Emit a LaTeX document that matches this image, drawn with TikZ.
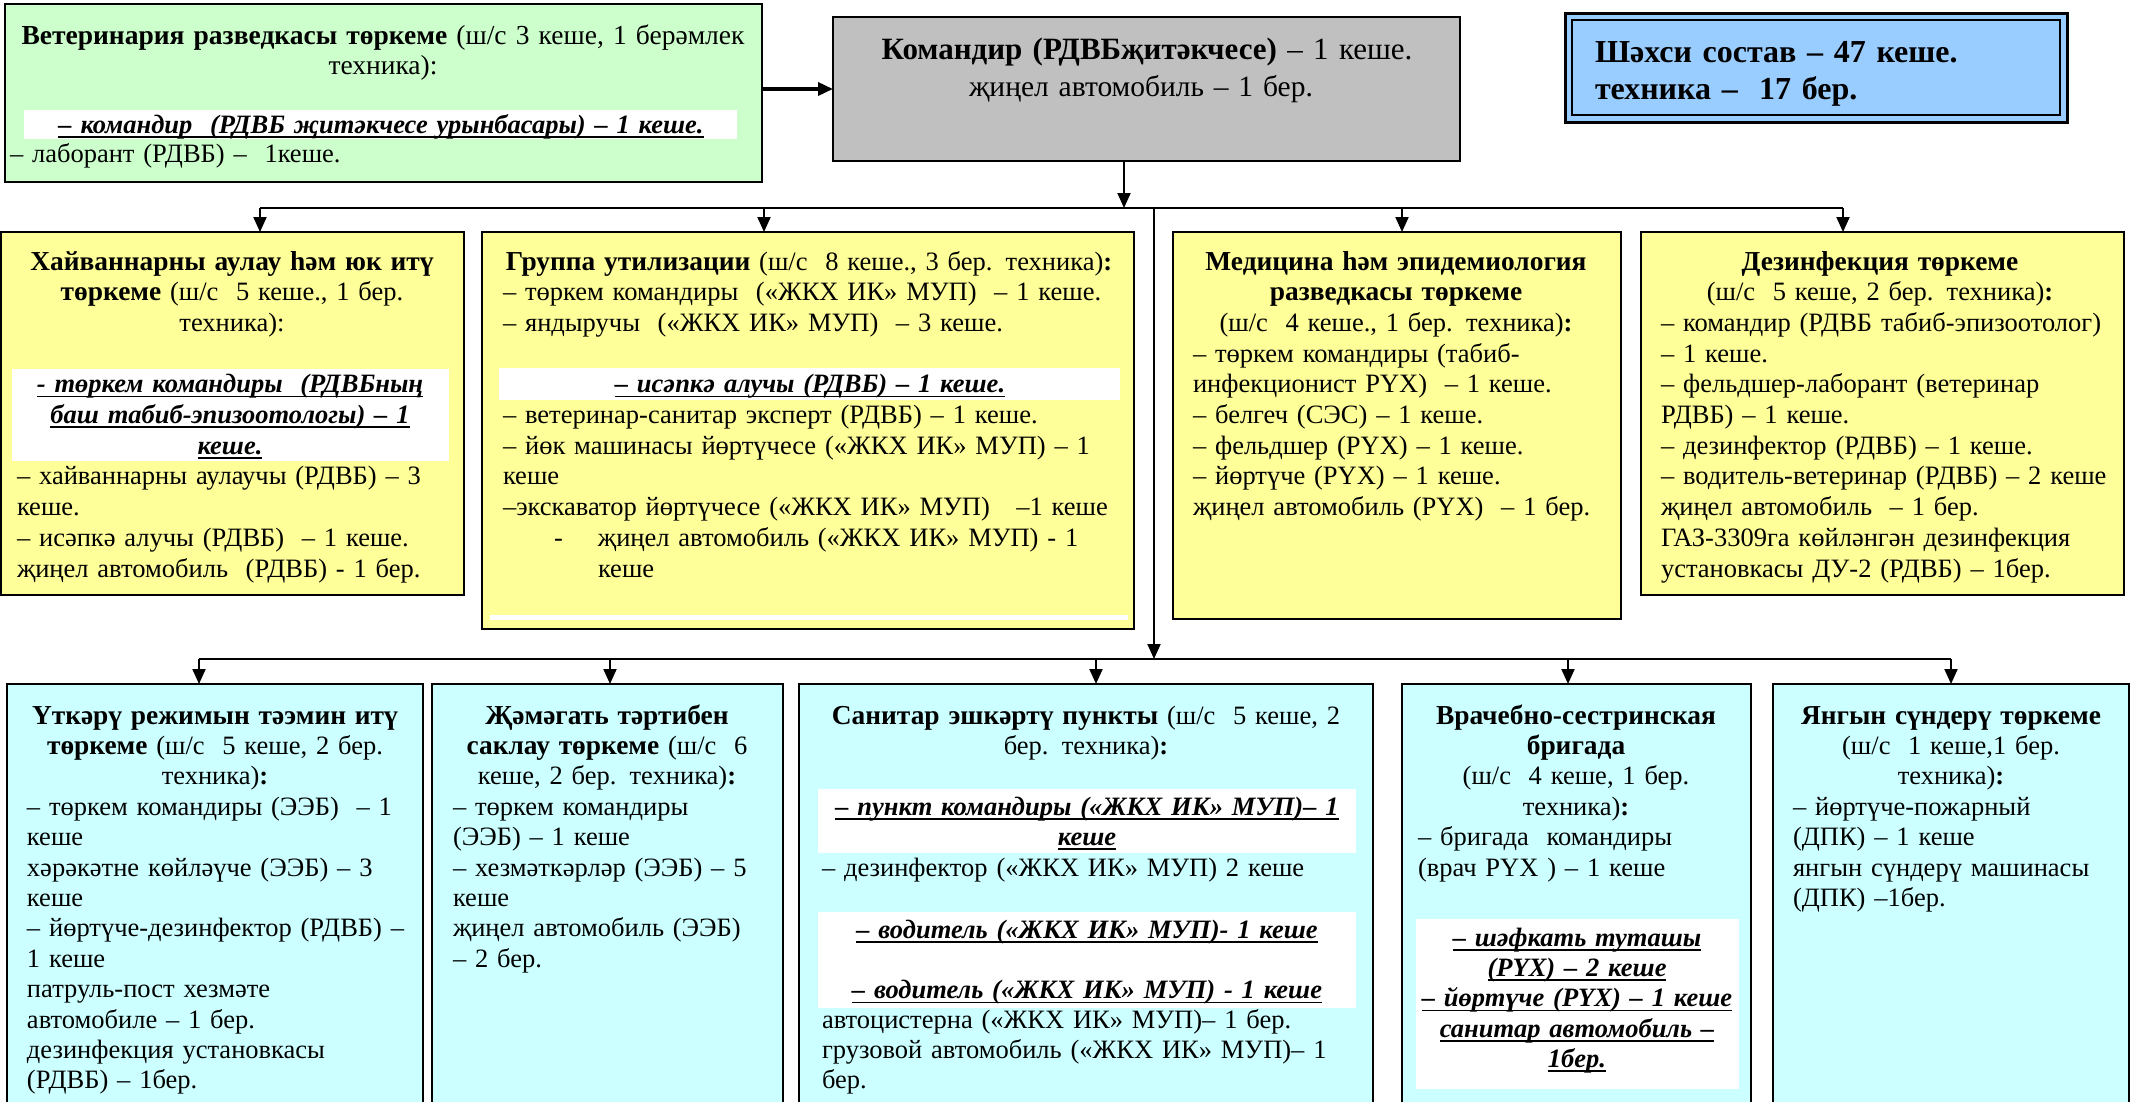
\documentclass[tikz,border=0pt]{standalone}
\usepackage{fontspec}
\setmainfont{Liberation Serif}
\usetikzlibrary{arrows.meta}
\definecolor{cgreen}{HTML}{CCFFCC}
\definecolor{cgray}{HTML}{C0C0C0}
\definecolor{cblue}{HTML}{99CCFF}
\definecolor{cyel}{HTML}{FFFF99}
\definecolor{ccyan}{HTML}{CCFFFF}
\newcommand{\fa}{\fontsize{26.5}{30.7}\selectfont}
\newcommand{\fb}{\fontsize{26.5}{30.4}\selectfont}
\newcommand{\fg}{\fontsize{27.5}{30}\selectfont}
\newcommand{\fgi}{\fontsize{26.5}{30}\selectfont}
\newcommand{\fc}{\fontsize{31}{37}\selectfont}
\newcommand{\fcs}{\fontsize{29.5}{37}\selectfont}
\newcommand{\ft}{\fontsize{32}{37}\selectfont}
\newcommand{\hb}[1]{{\fontsize{27.4}{30.5}\selectfont\bfseries #1}}
\newsavebox{\ulsave}
\newcommand{\ulbox}[1]{\sbox{\ulsave}{#1}\rlap{\rule[-4.5pt]{\wd\ulsave}{1.8pt}}\usebox{\ulsave}}
\newcommand{\bu}[1]{\textbf{\textit{\ulbox{#1}}}}
\begin{document}
\begin{tikzpicture}[x=1pt,y=-1pt,
  boxs/.style={draw=black, line width=1.8pt, inner sep=0pt, outer sep=0pt, anchor=north west},
  txl/.style={inner sep=0pt, outer sep=0pt, anchor=base west, align=left, text width=#1},
  txc/.style={inner sep=0pt, outer sep=0pt, anchor=base, align=center, text width=#1},
  conn/.style={line width=2pt, -{Triangle[length=15pt,width=13pt]}},
  bus/.style={line width=2pt},
  band/.style={fill=white}
]
\useasboundingbox (0,0) rectangle (2134,1101);
\fill[white] (0,0) rectangle (2134,1101);
\clip (0,0) rectangle (2134,1101);

% ---------- top row ----------
\node[boxs, fill=cgreen, minimum width=757pt, minimum height=178pt] (vet) at (5,4) {};
\fill[band] (24,110) rectangle (737,139);
\node[txc=900pt, font=\fg] (vett) at (383,44) {\textbf{Ветеринария разведкасы төркеме} (ш/с 3 кеше, 1 берәмлек\\техника):};
\node[txc=900pt, font=\fgi] (vetc) at (381,133) {\bu{– командир\ \ (РДВБ җитәкчесе урынбасары) – 1 кеше.}};
\node[txl=740pt, font=\fgi] (vetl) at (10,162) {– лаборант (РДВБ) –\ \ 1кеше.};

\node[boxs, fill=cgray, minimum width=627pt, minimum height=144pt] (cmd) at (833,17) {};
\node[txc=900pt, font=\fc] (cmdt) at (1147,59) {\textbf{Командир (РДВБҗитәкчесе)} – 1 кеше.};
\node[txc=900pt, font=\fcs] (cmdu) at (1141,96) {җиңел автомобиль – 1 бер.};

\node[boxs, fill=cblue, minimum width=502pt, minimum height=109pt, line width=3pt] (tot) at (1565,13) {};
\draw[line width=2.5pt] ([xshift=7pt,yshift=-7pt]tot.north west) rectangle ([xshift=-7pt,yshift=7pt]tot.south east);
\node[txl=480pt, font=\ft\bfseries] (tott) at (1595,62) {Шәхси состав – 47 кеше.\\техника –\ \ 17 бер.};

% ---------- row 1 boxes ----------
\node[boxs, fill=cyel, minimum width=463pt, minimum height=363pt] (b1) at (1,232) {};
\node[boxs, fill=cyel, minimum width=652pt, minimum height=397pt] (b2) at (482,232) {};
\node[boxs, fill=cyel, minimum width=448pt, minimum height=387pt] (b3) at (1173,232) {};
\node[boxs, fill=cyel, minimum width=483pt, minimum height=363pt] (b4) at (1641,232) {};

% ---------- row 2 boxes ----------
\node[boxs, fill=ccyan, minimum width=416pt, minimum height=440pt] (c1) at (7,684) {};
\node[boxs, fill=ccyan, minimum width=351pt, minimum height=440pt] (c2) at (432,684) {};
\node[boxs, fill=ccyan, minimum width=574pt, minimum height=440pt] (c3) at (799,684) {};
\node[boxs, fill=ccyan, minimum width=349pt, minimum height=440pt] (c4) at (1402,684) {};
\node[boxs, fill=ccyan, minimum width=356pt, minimum height=440pt] (c5) at (1773,684) {};

% ---------- connectors ----------
\draw[conn, line width=3.5pt] (vet.east |- cmd.west) -- (cmd.west);
\coordinate (j0) at (1124,208);
\coordinate (r1a) at (260,208);
\coordinate (r1b) at (764,208);
\coordinate (r1c) at (1402,208);
\coordinate (r1d) at (1843,208);
\draw[conn] (cmd.south -| j0) -- (j0);
\draw[bus] (r1a) -- (r1d);
\draw[conn] (r1a) -- (r1a |- b1.north);
\draw[conn] (r1b) -- (r1b |- b2.north);
\draw[conn] (r1c) -- (r1c |- b3.north);
\draw[conn] (r1d) -- (r1d |- b4.north);
\coordinate (j1) at (1154,208);
\coordinate (r2a) at (199,659);
\coordinate (r2b) at (610,659);
\coordinate (r2c) at (1096,659);
\coordinate (r2d) at (1568,659);
\coordinate (r2e) at (1951,659);
\draw[conn] (j1) -- (j1 |- r2a);
\draw[bus] (r2a) -- (r2e);
\draw[conn] (r2a) -- (r2a |- c1.north);
\draw[conn] (r2b) -- (r2b |- c2.north);
\draw[conn] (r2c) -- (r2c |- c3.north);
\draw[conn] (r2d) -- (r2d |- c4.north);
\draw[conn] (r2e) -- (r2e |- c5.north);

% ---------- row 1 texts ----------
\node[txc=600pt, font=\fa] (b1h) at (232,270) {\hb{Хайваннарны аулау һәм юк итү}\\\hb{төркеме} (ш/с\ \ 5 кеше., 1 бер.\\техника):};
\fill[band] (12,369) rectangle (449,461);
\node[txc=600pt, font=\fa] (b1c) at (230,392.8) {\bu{- төркем командиры\ \ (РДВБның}\\\bu{баш табиб-эпизоотологы) – 1}\\\bu{кеше.}};
\node[txl=500pt, font=\fa] (b1b) at (17,484.9) {– хайваннарны аулаучы (РДВБ) – 3\\кеше.\\– исәпкә алучы (РДВБ)\ \ – 1 кеше.\\җиңел автомобиль\ \ (РДВБ) - 1 бер.};

\node[txc=800pt, font=\fa] (b2h) at (809,270) {\hb{Группа утилизации} (ш/с\ \ 8 кеше., 3 бер. техника)\textbf{:}};
\node[txl=700pt, font=\fa] (b2a) at (503,300.7) {– төркем командиры\ \ («ЖКХ ИК» МУП)\ \ – 1 кеше.\\– яндыручы\ \ («ЖКХ ИК» МУП)\ \ – 3 кеше.};
\fill[band] (499,368) rectangle (1120,400);
\node[txc=800pt, font=\fa] (b2c) at (810,392.8) {\bu{– исәпкә алучы (РДВБ) – 1 кеше.}};
\node[txl=700pt, font=\fa] (b2b) at (503,423.5) {– ветеринар-санитар эксперт (РДВБ) – 1 кеше.\\– йөк машинасы йөртүчесе («ЖКХ ИК» МУП) – 1\\кеше\\–экскаватор йөртүчесе («ЖКХ ИК» МУП)\ \ \ –1 кеше};
\node[txl=700pt, font=\fa] (b2d) at (554,546.3) {\makebox[44pt][l]{-}җиңел автомобиль («ЖКХ ИК» МУП) - 1\\\hspace*{44pt}кеше};
\fill[band] (490,615) rectangle (1128,620);

\node[txc=600pt, font=\fa] (b3h) at (1396,270) {\hb{Медицина һәм эпидемиология}\\\hb{разведкасы төркеме}\\(ш/с\ \ 4 кеше., 1 бер. техника)\textbf{:}};
\node[txl=500pt, font=\fa] (b3b) at (1193,362.1) {– төркем командиры (табиб-\\инфекционист РҮХ)\ \ – 1 кеше.\\– белгеч (СЭС) – 1 кеше.\\– фельдшер (РҮХ) – 1 кеше.\\– йөртүче (РҮХ) – 1 кеше.\\җиңел автомобиль (РҮХ)\ \ – 1 бер.};

\node[txc=600pt, font=\fa] (b4h) at (1880,270) {\hb{Дезинфекция төркеме}\\(ш/с\ \ 5 кеше, 2 бер. техника)\textbf{:}};
\node[txl=500pt, font=\fa] (b4b) at (1661,331.4) {– командир (РДВБ табиб-эпизоотолог)\\– 1 кеше.\\– фельдшер-лаборант (ветеринар\\РДВБ) – 1 кеше.\\– дезинфектор (РДВБ) – 1 кеше.\\– водитель-ветеринар (РДВБ) – 2 кеше\\җиңел автомобиль\ \ – 1 бер.\\ГАЗ-3309га көйләнгән дезинфекция\\установкасы ДУ-2 (РДВБ) – 1бер.};

% ---------- row 2 texts ----------
\node[txc=600pt, font=\fb] (c1h) at (215,724) {\hb{Үткәрү режимын тәэмин итү}\\\hb{төркеме} (ш/с\ \ 5 кеше, 2 бер.\\техника)\textbf{:}};
\node[txl=500pt, font=\fb] (c1b) at (27,815.2) {– төркем командиры (ЭЭБ)\ \ – 1\\кеше\\хәрәкәтне көйләүче (ЭЭБ) – 3\\кеше\\– йөртүче-дезинфектор (РДВБ) –\\1 кеше\\патруль-пост хезмәте\\автомобиле – 1 бер.\\дезинфекция установкасы\\(РДВБ) – 1бер.};

\node[txc=600pt, font=\fb] (c2h) at (607,724) {\hb{Җәмәгать тәртибен}\\\hb{саклау төркеме} (ш/с\ \ 6\\кеше, 2 бер. техника)\textbf{:}};
\node[txl=400pt, font=\fb] (c2b) at (453,815.2) {– төркем командиры\\(ЭЭБ) – 1 кеше\\– хезмәткәрләр (ЭЭБ) – 5\\кеше\\җиңел автомобиль (ЭЭБ)\\– 2 бер.};

\node[txc=700pt, font=\fb] (c3h) at (1086,724) {\hb{Санитар эшкәртү пункты} (ш/с\ \ 5 кеше, 2\\бер. техника)\textbf{:}};
\fill[band] (818,789) rectangle (1356,853);
\node[txc=700pt, font=\fb] (c3p) at (1087,815.2) {\bu{– пункт командиры («ЖКХ ИК» МУП)– 1}\\\bu{кеше}};
\node[txl=600pt, font=\fb] (c3d) at (822,876) {– дезинфектор («ЖКХ ИК» МУП) 2 кеше};
\fill[band] (818,912) rectangle (1356,1008);
\node[txc=700pt, font=\fb] (c3v) at (1087,938) {\bu{– водитель («ЖКХ ИК» МУП)- 1 кеше}\\[30.4pt]\bu{– водитель («ЖКХ ИК» МУП) - 1 кеше}};
\node[txl=600pt, font=\fb] (c3a) at (822,1028) {автоцистерна («ЖКХ ИК» МУП)– 1 бер.\\грузовой автомобиль («ЖКХ ИК» МУП)– 1\\бер.};

\node[txc=600pt, font=\fb] (c4h) at (1576,724) {\hb{Врачебно-сестринская}\\\hb{бригада}\\(ш/с\ \ 4 кеше, 1 бер.\\техника)\textbf{:}};
\node[txl=400pt, font=\fb] (c4b) at (1418,845.6) {– бригада\ \ командиры\\(врач РҮХ ) – 1 кеше};
\fill[band] (1416,919) rectangle (1739,1089);
\node[txc=500pt, font=\fb] (c4s) at (1577,946) {\bu{– шәфкать туташы}\\\bu{(РҮХ) – 2 кеше}\\\bu{– йөртүче (РҮХ) – 1 кеше}\\\bu{санитар автомобиль –}\\\bu{1бер.}};

\node[txc=600pt, font=\fb] (c5h) at (1951,724) {\hb{Янгын сүндерү төркеме}\\(ш/с\ \ 1 кеше,1 бер.\\техника)\textbf{:}};
\node[txl=400pt, font=\fb] (c5b) at (1793,815.2) {– йөртүче-пожарный\\(ДПК) – 1 кеше\\янгын сүндерү машинасы\\(ДПК) –1бер.};
\end{tikzpicture}
\end{document}
